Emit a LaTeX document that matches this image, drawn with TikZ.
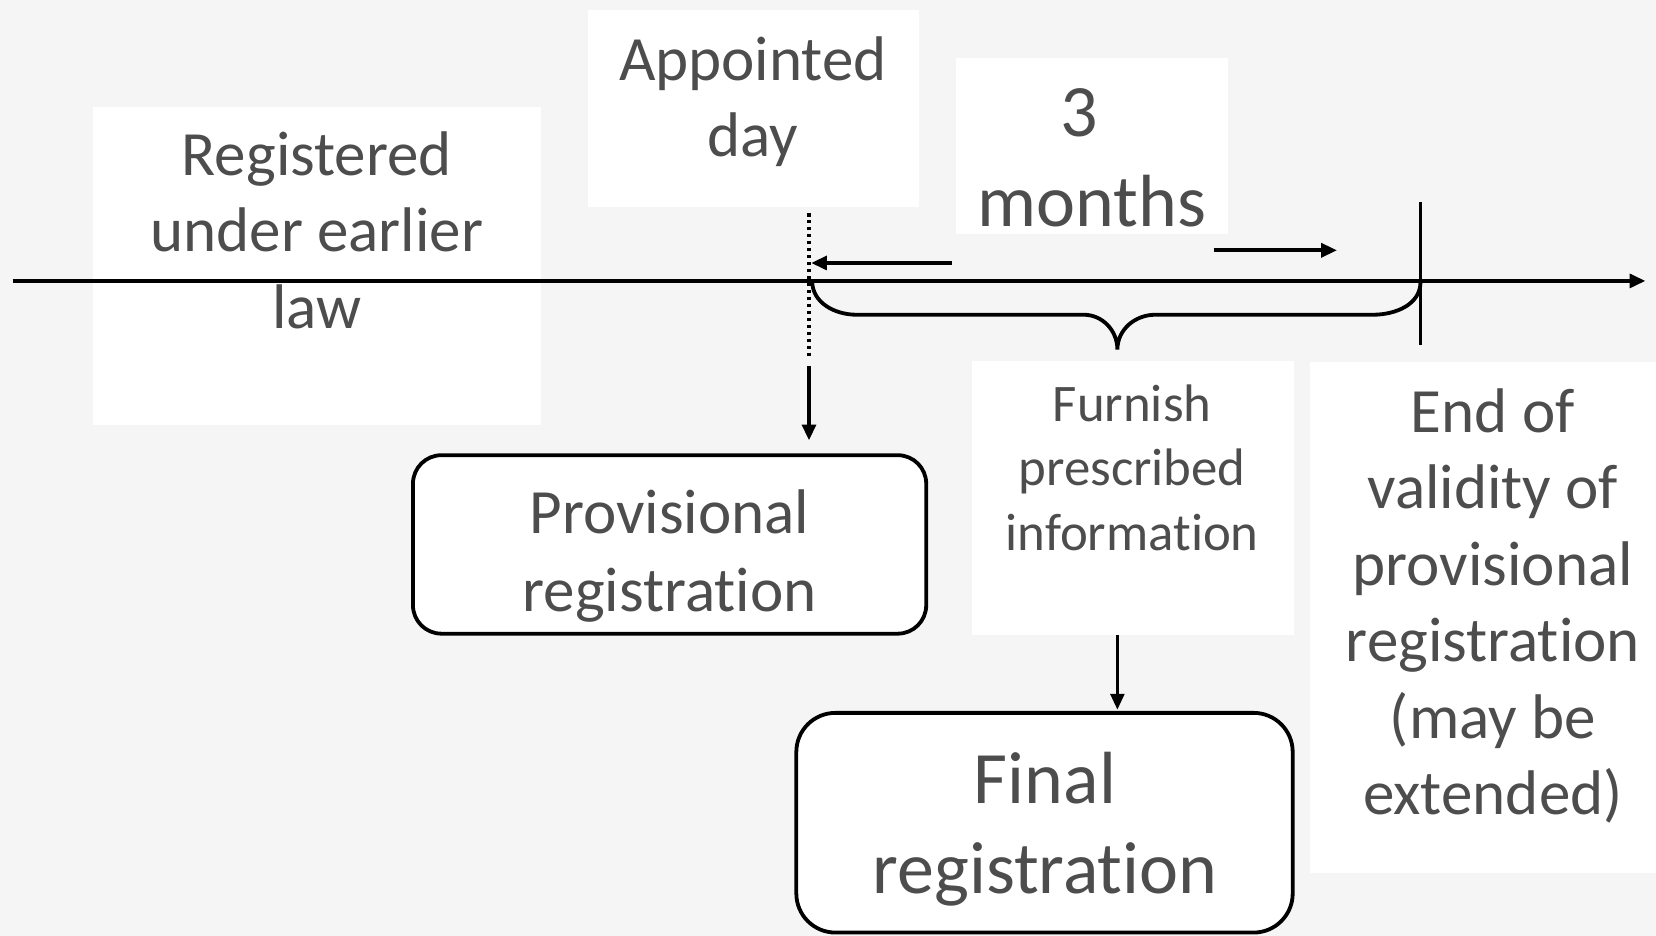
\documentclass[tikz,border=0pt]{standalone}
\usepackage{fontspec}
\setmainfont{Carlito}[Ligatures={NoCommon,NoRare,NoContextual}]
\usetikzlibrary{arrows.meta}
\definecolor{txt}{HTML}{4D4D4D}
\definecolor{bg}{HTML}{F5F5F5}
\begin{document}
\begin{tikzpicture}[x=1pt,y=-1pt,
  lbl/.style={inner sep=0pt, outer sep=0pt, align=center, text=txt},
  fsmall/.style={font=\fontsize{50}{61}\selectfont},
  fmid/.style={font=\fontsize{59.7}{72.5}\selectfont},
  fprov/.style={font=\fontsize{59.7}{74}\selectfont},
  fbig/.style={font=\fontsize{70}{85.5}\selectfont},
  stage/.style={draw=black, line width=3.6pt, fill=white, inner sep=0pt},
  axis/.style={line width=3.6pt},
  arr/.style={line width=3.6pt, -{Triangle[length=15pt,width=13pt]}},
]
\useasboundingbox (0,0) rectangle (1568,886);
\fill[bg] (0,0) rectangle (1568,886);

% white text-box backgrounds
\fill[white] (88,101) rectangle (512,402);
\fill[white] (557,9) rectangle (870,196);
\fill[white] (905,55) rectangle (1163,222);
\fill[white] (920,342) rectangle (1225,601);
\fill[white] (1240,343) rectangle (1568,827);

% texts
\node[lbl,fmid] (reg) at (300,224) {\strut Registered\\under earlier\\law\strut};
\node[lbl,fmid] (appt) at (713,97.75) {\strut Appointed\\day\strut};
\node[lbl,fbig] (months) at (1034,155) {\strut 3\kern24pt\\months\strut};
\node[lbl,fsmall] (furnish) at (1072,447.8) {\strut Furnish\\prescribed\\information\strut};
\node[lbl,fmid] (endval) at (1413.5,575.9) {\strut End of\\validity of\\provisional\\registration\\(may be\\extended)\strut};

% stage boxes
\node[stage, rounded corners=27pt, minimum width=486pt, minimum height=169pt] (provbox) at (634,515.5) {};
\node[lbl,fprov] (prov) at (634,527.2) {\strut Provisional\\registration\strut};
\node[stage, rounded corners=37pt, minimum width=470pt, minimum height=208pt] (finalbox) at (989,779) {};
\node[lbl,fbig] (final) at (989.5,786.5) {\strut Final\\registration\strut};

% coordinates
\coordinate (tl0) at (12,266);
\coordinate (tl1) at (1558,266);
\coordinate (aptTop) at (766,202);
\coordinate (aptBot) at (766,338);
\coordinate (aptDown) at (766,347);
\coordinate (provIn) at (766,417);
\coordinate (lA) at (901,249);
\coordinate (lB) at (768,249);
\coordinate (rA) at (1149,237);
\coordinate (rB) at (1266,237);
\coordinate (tickTop) at (1345,191);
\coordinate (tickBot) at (1345,327);
\coordinate (furnOut) at (1058,601);
\coordinate (finalIn) at (1058,672);

% timeline
\draw[arr] (tl0) -- (tl1);
\draw[line width=3.4pt, dash pattern=on 3pt off 3.6pt] (aptTop) -- (aptBot);
\draw[arr] (lA) -- (lB);
\draw[arr] (rA) -- (rB);
\draw[axis] (tickTop) -- (tickBot);
\draw[axis] (769,266) to[out=-90,in=180] (811,298) -- (1026,298)
  to[out=0,in=90] (1058,331) to[out=90,in=180] (1094,298) -- (1300,298)
  to[out=0,in=-90] (1345,267);

% down arrows
\draw[arr] (aptDown) -- (provIn);
\draw[arr, line width=3pt] (furnOut) -- (finalIn);
\end{tikzpicture}
\end{document}
